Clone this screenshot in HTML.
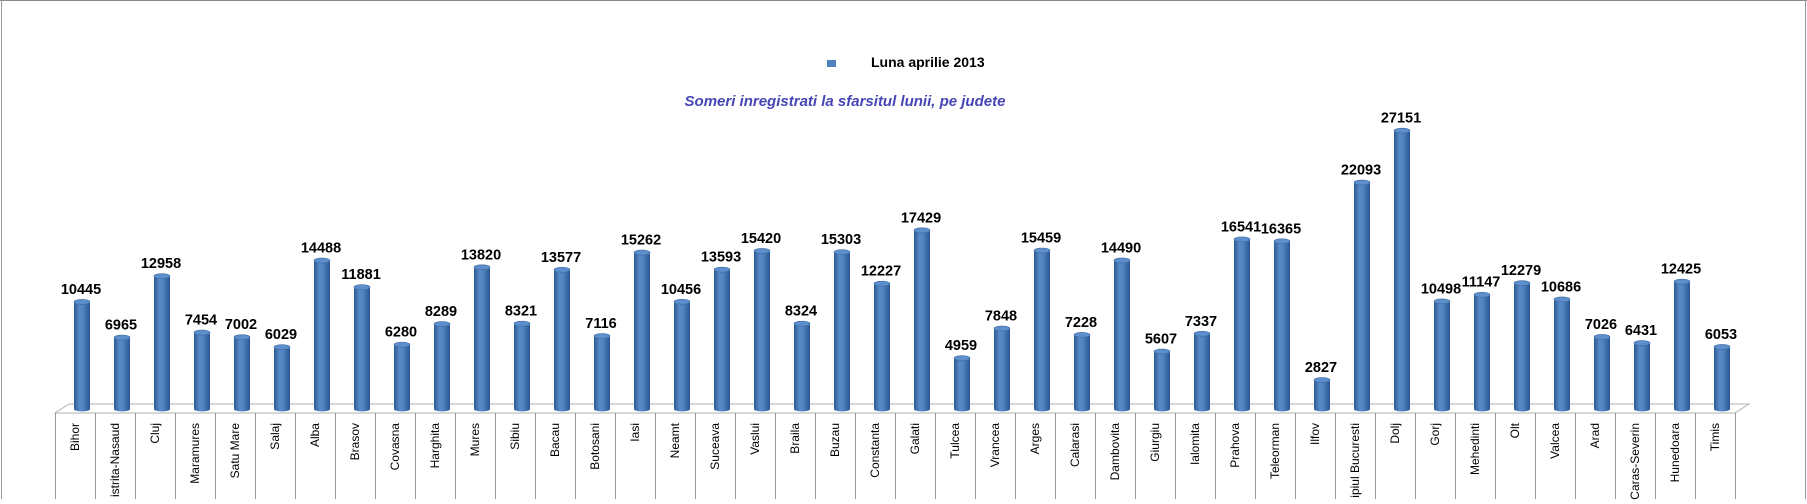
<!DOCTYPE html>
<html><head><meta charset="utf-8"><style>
html,body{margin:0;padding:0;background:#fff;width:1807px;height:504px;overflow:hidden}
svg{display:block;position:absolute;left:0;top:0}
</style></head><body>
<svg id="s" width="1807" height="504" xmlns="http://www.w3.org/2000/svg" font-family="Liberation Sans, sans-serif">
<defs>
<linearGradient id="g" x1="0" x2="1" y1="0" y2="0">
<stop offset="0" stop-color="#2c5a92"/>
<stop offset="0.35" stop-color="#5a8bc9"/>
<stop offset="0.6" stop-color="#4f81bd"/>
<stop offset="1" stop-color="#2a5690"/>
</linearGradient>
<clipPath id="c"><rect x="0" y="413" width="1807" height="87"/></clipPath>
</defs>
<line x1="0" y1="0.5" x2="1807" y2="0.5" stroke="#888" stroke-width="1"/>
<line x1="1.5" y1="0" x2="1.5" y2="499" stroke="#999" stroke-width="1"/>
<line x1="1805.5" y1="0" x2="1805.5" y2="499" stroke="#999" stroke-width="1"/>
<rect x="827" y="60" width="9" height="7" fill="#4f81bd"/>
<text x="871" y="67" font-size="14" font-weight="bold" fill="#000">Luna aprilie 2013</text>
<text x="845" y="106" font-size="15" font-weight="bold" font-style="italic" fill="#4646b4" text-anchor="middle">Someri inregistrati la sfarsitul lunii, pe  judete</text>
<polygon points="55,413 69,404 1749,404 1735,413" fill="#fff" stroke="#b0b0b0" stroke-width="1"/>
<g id="bars"></g>
<g stroke="#999" stroke-width="1" id="grid"></g>
<g id="vals"></g>
<g id="cats" clip-path="url(#c)"></g>
</svg>
<script>
(function(){
var d=[["Bihor",10445],["istrita-Nasaud",6965],["Cluj",12958],["Maramures",7454],["Satu Mare",7002],["Salaj",6029],["Alba",14488],["Brasov",11881],["Covasna",6280],["Harghita",8289],["Mures",13820],["Sibiu",8321],["Bacau",13577],["Botosani",7116],["Iasi",15262],["Neamt",10456],["Suceava",13593],["Vaslui",15420],["Braila",8324],["Buzau",15303],["Constanta",12227],["Galati",17429],["Tulcea",4959],["Vrancea",7848],["Arges",15459],["Calarasi",7228],["Dambovita",14490],["Giurgiu",5607],["Ialomita",7337],["Prahova",16541],["Teleorman",16365],["Ilfov",2827],["ipiul Bucuresti",22093],["Dolj",27151],["Gorj",10498],["Mehedinti",11147],["Olt",12279],["Valcea",10686],["Arad",7026],["Caras-Severin",6431],["Hunedoara",12425],["Timis",6053]];
var NS="http://www.w3.org/2000/svg";
function el(t,a,p,txt){var e=document.createElementNS(NS,t);for(var k in a)e.setAttribute(k,a[k]);if(txt)e.textContent=txt;p.appendChild(e);return e;}
var B=document.getElementById("bars"),G=document.getElementById("grid"),V=document.getElementById("vals"),C=document.getElementById("cats");
for(var i=0;i<d.length;i++){
 var x0=55+i*40,h=d[i][1]*0.01025,ty=409-h,bx=x0+19,cx=x0+27;
 el("rect",{x:bx,y:ty,width:16,height:h,fill:"url(#g)"},B);
 el("ellipse",{cx:cx,cy:409,rx:8,ry:2.5,fill:"url(#g)"},B);
 el("ellipse",{cx:cx,cy:ty,rx:8,ry:2.5,fill:"#5d8fcc",stroke:"#3d6aa3","stroke-width":0.6},B);
 el("text",{x:cx-1,y:ty-8,"font-size":14.5,"font-weight":"bold","text-anchor":"middle",fill:"#000"},V,String(d[i][1]));
 el("text",{x:0,y:0,"font-size":12,"text-anchor":"end",fill:"#000",transform:"translate("+(x0+24)+",423) rotate(-90)"},C,d[i][0]);
}
for(var j=0;j<=42;j++){var x=55.5+j*40;el("line",{x1:x,y1:413,x2:x,y2:499},G);}
})();
</script>
</body></html>
